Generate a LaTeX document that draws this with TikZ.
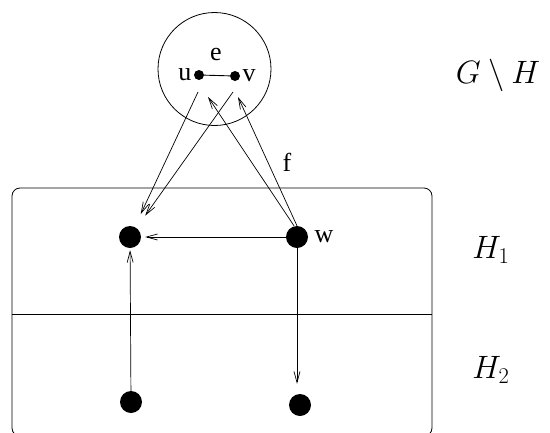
\documentclass[tikz,border=0pt]{standalone}
\usepackage{fontspec}
\setmainfont{Liberation Serif}
\usepackage{tikz}
\usetikzlibrary{arrows.meta,positioning}
\newcommand{\biglbl}[1]{\scalebox{1.3}{$#1$}}

\begin{document}
\begin{tikzpicture}[
  x=1pt, y=-1pt,
  font=\fontsize{26}{30}\selectfont,
  bigdot/.style={circle, fill=black, inner sep=0pt, minimum size=22pt},
  smalldot/.style={circle, fill=black, inner sep=0pt, minimum size=10pt},
  arr/.style={-{Straight Barb[length=11pt, width=6pt]}, line width=0.7pt}
]
\useasboundingbox (0,0) rectangle (550,432);
% outer part G\H
\node[circle, draw, line width=0.8pt, minimum size=113pt, inner sep=0pt] (gh) at (214.5,69) {};
\node[smalldot] (u) at (199,75) {};
\node[smalldot] (v) at (235,76) {};
\draw[line width=0.9pt] (u) -- (v);
\node[left=-1pt of u] {u};
\node[right=-1pt of v] {v};
\node at (216,54) {e};
% H1 and H2
\draw[line width=0.8pt, rounded corners=8pt] (12,188) rectangle (432,436);
\draw[line width=0.8pt] (12,314) -- (432,314);
\node[bigdot] (a) at (130,237) {};
\node[bigdot] (w) at (297,237) {};
\node[bigdot] (b) at (131,402) {};
\node[bigdot] (c) at (300,405) {};
\node[right=3pt of w] {w};
\node at (287,162) {f};
\node at (498,75) {\biglbl{G\setminus H}};
\node at (491,250) {\biglbl{H_1}};
\node at (491,370) {\biglbl{H_2}};
% edges
\coordinate (p1) at (198,92);
\coordinate (p2) at (233,92);
\coordinate (q1) at (208,97);
\coordinate (q2) at (238,97);
\draw[arr, shorten >=14pt] (p1) -- (a);
\draw[arr, shorten >=15pt] (p2) -- (a);
\draw[arr] ([xshift=-3pt]w.north) -- (q1);
\draw[arr] (w.north) -- (q2);
\draw[arr, shorten >=4pt] (w) -- (a);
\draw[arr, shorten >=2pt] (b) -- (a);
\draw[arr, shorten >=10pt] (w.south) -- (w.south |- c.north);
\end{tikzpicture}
\end{document}
